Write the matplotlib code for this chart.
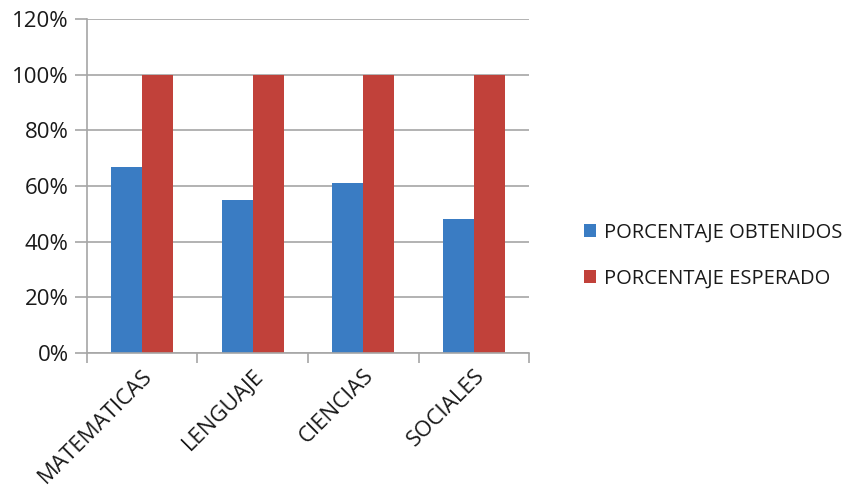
import matplotlib.pyplot as plt
import numpy as np

plt.rcParams['font.family'] = ['Open Sans', 'DejaVu Sans']

categories = ['MATEMATICAS', 'LENGUAJE', 'CIENCIAS', 'SOCIALES']
obtenidos = [67, 55, 61, 48]
esperado = [100, 100, 100, 100]
series_names = ['PORCENTAJE OBTENIDOS', 'PORCENTAJE ESPERADO']
yticks = [0, 20, 40, 60, 80, 100, 120]

blue = '#3A7CC3'
red = '#C1413A'
grid_col = '#A6A6A6'

fig = plt.figure(figsize=(8.52, 4.92), dpi=100)
ax = fig.add_axes([0.102, 0.283, 0.519, 0.678])

x = np.arange(len(categories))
w = 0.28
ax.bar(x - w / 2, obtenidos, w, color=blue, label=series_names[0], zorder=2)
ax.bar(x + w / 2, esperado, w, color=red, label=series_names[1], zorder=2)

ax.set_xlim(-0.5, len(categories) - 0.5)
ax.set_ylim(0, 120)
ax.set_yticks(yticks)
ax.set_yticklabels([f'{v}%' for v in yticks], fontsize=16, color='#1a1a1a')
ax.yaxis.grid(True, color=grid_col, linewidth=1.2, zorder=0)
ax.set_axisbelow(True)

# category boundary ticks, labels centered on groups
ax.set_xticks(np.arange(len(categories) + 1) - 0.5)
ax.set_xticklabels([])
ax.set_xticks(x, minor=True)
ax.set_xticklabels(categories, minor=True, rotation=45, ha='right',
                   rotation_mode='anchor', fontsize=16, color='#1a1a1a')
ax.tick_params(axis='x', which='minor', length=0, pad=9)
ax.tick_params(axis='x', which='major', length=7, color=grid_col, width=1.2)
ax.tick_params(axis='y', length=9, color=grid_col, width=1.2, pad=4)

for s in ['top', 'right']:
    ax.spines[s].set_visible(False)
for s in ['left', 'bottom']:
    ax.spines[s].set_color(grid_col)
    ax.spines[s].set_linewidth(1.2)

fig.legend(loc='center left', bbox_to_anchor=(0.664, 0.48), frameon=False,
           fontsize=14.5, handlelength=0.6, handleheight=0.6, handletextpad=0.4,
           labelspacing=1.3, labelcolor='#1a1a1a')

fig.savefig('out.png', dpi=100)
